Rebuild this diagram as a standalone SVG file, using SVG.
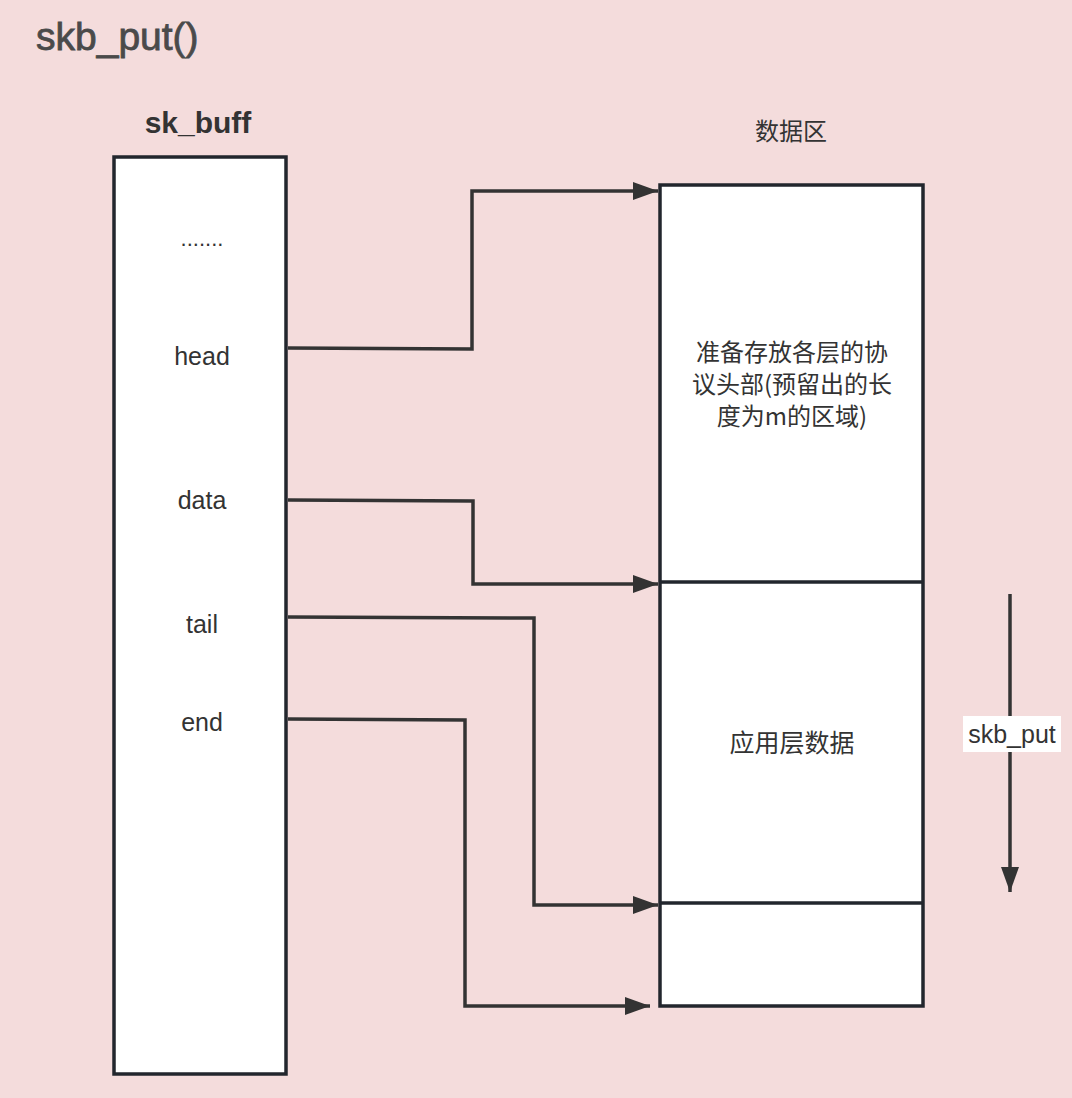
<svg xmlns="http://www.w3.org/2000/svg" width="1072" height="1098" viewBox="0 0 1072 1098">
<style>
.box{fill:#ffffff;stroke:#22262d;stroke-width:3.5}
.div{stroke:#22262d;stroke-width:3.5}
.conn{fill:none;stroke:#333333;stroke-width:3.5}
.t{font-family:"Liberation Sans","Noto Sans CJK SC",Arial,sans-serif;fill:#333333;text-anchor:middle}
.cjk{font-family:"Noto Sans CJK SC","Liberation Sans",sans-serif;fill:#333333;text-anchor:middle}
</style>
<defs>
<marker id="ah" markerUnits="userSpaceOnUse" markerWidth="25" markerHeight="18" refX="25" refY="9" orient="auto" viewBox="0 0 25 18">
<path d="M0,0 L25,9 L0,18 Z" fill="#333333"/>
</marker>
</defs>
<rect x="0" y="0" width="1072" height="1098" fill="#f4dcdc"/>
<g id="title">
<text class="t" x="36" y="50" style="font-size:39px;fill:#4a4a4a;stroke:#4a4a4a;stroke-width:0.8;text-anchor:start">skb_put()</text>
</g>
<g id="sk_buff">
<text class="t" x="198" y="133" style="font-size:30px;font-weight:bold">sk_buff</text>
<rect class="box" x="114" y="157" width="172" height="917"/>
<text class="t" x="202" y="246" style="font-size:22px">.......</text>
<text class="t" x="202" y="365" style="font-size:25px">head</text>
<text class="t" x="202" y="509" style="font-size:25px">data</text>
<text class="t" x="202" y="633" style="font-size:25px">tail</text>
<text class="t" x="202" y="731" style="font-size:25px">end</text>
</g>
<g id="data_area">
<text class="cjk" x="791" y="140" style="font-size:24px">数据区</text>
<rect class="box" x="660" y="185" width="263" height="821"/>
<line class="div" x1="660" y1="582" x2="923" y2="582"/>
<line class="div" x1="660" y1="903" x2="923" y2="903"/>
<text class="cjk" x="792" y="361" style="font-size:24px">准备存放各层的协</text>
<text class="cjk" x="792" y="393" style="font-size:24px">议头部(预留出的长</text>
<text class="cjk" x="792" y="425" style="font-size:24px">度为m的区域)</text>
<text class="cjk" x="792" y="752" style="font-size:25px">应用层数据</text>
</g>
<g id="connectors">
<polyline class="conn" points="288,348 472,349 472,191 658,191" marker-end="url(#ah)"/>
<polyline class="conn" points="288,500 473,501 473,584 658,584" marker-end="url(#ah)"/>
<polyline class="conn" points="288,617 534,618 534,905 658,905" marker-end="url(#ah)"/>
<polyline class="conn" points="288,719 465,720 465,1006 650,1006" marker-end="url(#ah)"/>
<line class="conn" x1="1010" y1="594" x2="1010" y2="892" marker-end="url(#ah)"/>
</g>
<g id="skb_put_label">
<rect x="963" y="716" width="98" height="36" fill="#ffffff"/>
<text class="t" x="1012" y="743" style="font-size:25px">skb_put</text>
</g>
</svg>
